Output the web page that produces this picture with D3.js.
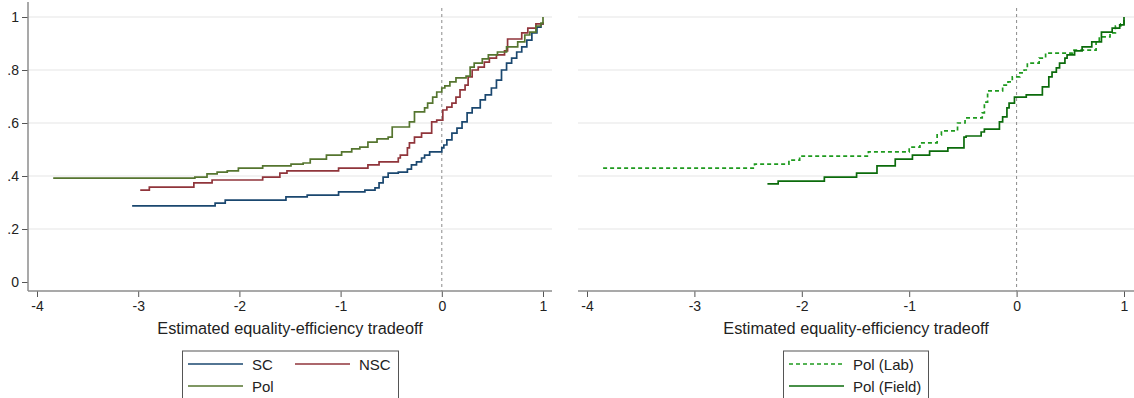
<!DOCTYPE html>
<html><head><meta charset="utf-8">
<script src="https://cdn.jsdelivr.net/npm/d3@7"></script>
<style>
html,body{margin:0;padding:0;background:#fff;}
svg{display:block;font-family:"Liberation Sans",Arial,sans-serif;}
</style></head>
<body><svg id="c" width="1134" height="398"></svg>
<script>
// ---- data ----
const xTicks = [-4,-3,-2,-1,0,1];
const yTicks = [0,0.2,0.4,0.6,0.8,1];
const axisTitle = "Estimated equality-efficiency tradeoff";

const scX = [-3.06,-2.24,-2.14,-1.54,-1.33,-1.02,-0.76,-0.66,-0.62,-0.58,-0.53,-0.43,-0.34,-0.30,-0.25,-0.20,-0.17,-0.12,0.00,0.02,0.05,0.10,0.15,0.20,0.25,0.30,0.38,0.43,0.49,0.54,0.59,0.64,0.69,0.74,0.79,0.84,0.89,0.94,0.98,1.00];
const scY = [0.287,0.298,0.309,0.321,0.328,0.340,0.347,0.355,0.374,0.396,0.411,0.415,0.426,0.442,0.453,0.468,0.479,0.491,0.506,0.517,0.536,0.562,0.581,0.604,0.638,0.657,0.687,0.706,0.732,0.762,0.800,0.826,0.845,0.868,0.887,0.913,0.940,0.962,0.974,0.978];

const nscX = [-2.98,-2.89,-2.45,-2.27,-1.77,-1.60,-1.53,-1.02,-0.73,-0.62,-0.43,-0.41,-0.34,-0.32,-0.27,-0.20,-0.10,-0.05,0.01,0.05,0.10,0.14,0.18,0.23,0.26,0.30,0.36,0.42,0.47,0.54,0.62,0.65,0.79,0.85,0.93,1.00];
const nscY = [0.347,0.358,0.374,0.385,0.396,0.411,0.419,0.430,0.442,0.453,0.468,0.479,0.506,0.525,0.547,0.562,0.604,0.611,0.649,0.660,0.675,0.698,0.725,0.743,0.774,0.800,0.811,0.830,0.845,0.857,0.872,0.917,0.940,0.958,0.974,0.980];

const polX = [-3.84,-2.44,-2.32,-2.22,-2.12,-2.01,-1.77,-1.49,-1.37,-1.30,-1.14,-0.99,-0.89,-0.81,-0.73,-0.64,-0.53,-0.49,-0.32,-0.27,-0.17,-0.14,-0.09,-0.05,0.00,0.03,0.08,0.14,0.24,0.28,0.32,0.40,0.46,0.55,0.64,0.75,0.82,0.87,0.93,0.98,1.00];
const polY = [0.392,0.396,0.408,0.415,0.419,0.430,0.438,0.445,0.449,0.464,0.479,0.491,0.502,0.509,0.528,0.540,0.547,0.585,0.604,0.642,0.657,0.675,0.698,0.717,0.732,0.740,0.755,0.770,0.777,0.811,0.826,0.842,0.857,0.868,0.887,0.906,0.932,0.943,0.966,0.977,1.000];

const labX = [-3.85,-2.44,-2.12,-2.02,-1.38,-1.00,-0.90,-0.74,-0.70,-0.55,-0.48,-0.32,-0.30,-0.27,-0.13,-0.08,-0.04,0.03,0.07,0.10,0.21,0.27,0.52,0.74,0.77,0.87,0.92,0.97,1.00];
const labY = [0.430,0.445,0.460,0.475,0.491,0.509,0.525,0.555,0.570,0.600,0.619,0.638,0.679,0.721,0.743,0.755,0.774,0.789,0.800,0.826,0.845,0.864,0.875,0.906,0.925,0.940,0.966,0.974,1.000];

const fieldX = [-2.32,-2.22,-1.79,-1.49,-1.30,-1.13,-0.97,-0.81,-0.64,-0.49,-0.47,-0.33,-0.30,-0.16,-0.13,-0.09,-0.07,-0.02,0.09,0.24,0.30,0.33,0.37,0.40,0.45,0.47,0.54,0.61,0.70,0.79,0.89,0.96,1.00];
const fieldY = [0.370,0.381,0.396,0.411,0.438,0.464,0.479,0.494,0.506,0.547,0.551,0.566,0.577,0.604,0.623,0.657,0.675,0.698,0.706,0.736,0.774,0.792,0.808,0.826,0.845,0.857,0.872,0.887,0.906,0.943,0.958,0.970,1.000];

const leftSeries = [
  {name:"SC", xs:scX, ys:scY, color:"#1a476f", dash:null},
  {name:"NSC", xs:nscX, ys:nscY, color:"#90353b", dash:null},
  {name:"Pol", xs:polX, ys:polY, color:"#55752f", dash:null}
];
const rightSeries = [
  {name:"Pol (Lab)", xs:labX, ys:labY, color:"#1e9a1e", dash:"4,3"},
  {name:"Pol (Field)", xs:fieldX, ys:fieldY, color:"#0b6b0b", dash:null}
];

// ---- drawing ----
const svg = d3.select("#c");
const y = d3.scaleLinear().domain([0,1]).range([282,17]);
const fmtX = d => String(d);
const fmtY = d => d===0 ? "0" : d===1 ? "1" : String(d).replace("0.",".");

function panel(opts){
  const g = svg.append("g");
  const x = d3.scaleLinear().domain([-4,1]).range(opts.xr);
  // grid
  g.append("g").selectAll("line").data(yTicks.filter(d=>d>0)).join("line")
    .attr("x1",opts.left).attr("x2",opts.right)
    .attr("y1",d=>y(d)).attr("y2",d=>y(d))
    .attr("stroke","#e6e6e6").attr("stroke-width",1.2);
  // zero reference
  g.append("line").attr("x1",x(0)).attr("x2",x(0)).attr("y1",8).attr("y2",291)
    .attr("stroke","#8a8a8a").attr("stroke-width",1).attr("stroke-dasharray","3,3");
  // x axis
  const ax = g.append("g").attr("transform","translate(0,291)")
    .call(d3.axisBottom(x).tickValues(xTicks).tickFormat(fmtX).tickSize(6).tickPadding(4));
  ax.select(".domain").remove();
  ax.selectAll(".tick line").attr("stroke","#555");
  ax.selectAll(".tick text").attr("font-size","14px").attr("fill","#222")
    .attr("font-family","'Liberation Sans',Arial,sans-serif");
  g.append("line").attr("x1",opts.left).attr("x2",opts.right).attr("y1",291).attr("y2",291)
    .attr("stroke","#8c8c8c").attr("stroke-width",1.5);
  if(opts.yaxis){
    const ay = g.append("g").attr("transform",`translate(${opts.left},0)`)
      .call(d3.axisLeft(y).tickValues(yTicks).tickFormat(fmtY).tickSize(6).tickPadding(3));
    ay.select(".domain").remove();
    ay.selectAll(".tick line").attr("stroke","#555");
    ay.selectAll(".tick text").attr("font-size","14px").attr("fill","#222")
      .attr("font-family","'Liberation Sans',Arial,sans-serif");
    g.append("line").attr("x1",opts.left).attr("x2",opts.left).attr("y1",2).attr("y2",291)
      .attr("stroke","#8c8c8c").attr("stroke-width",1.5);
  }
  // axis title
  g.append("text").attr("x",(opts.left+opts.right)/2).attr("y",334)
    .attr("text-anchor","middle").attr("font-size","16.3px").attr("fill","#222").text(axisTitle);
  // series
  const line = d3.line().x(d=>x(d[0])).y(d=>y(d[1])).curve(d3.curveStepAfter);
  opts.series.forEach(s=>{
    const pts = s.xs.map((v,i)=>[v,s.ys[i]]);
    g.append("path").attr("d",line(pts)).attr("fill","none")
      .attr("stroke",s.color).attr("stroke-width",1.7)
      .attr("stroke-dasharray",s.dash);
  });
  // legend
  const L = opts.legend;
  g.append("rect").attr("x",L.x).attr("y",351).attr("width",L.w).attr("height",60)
    .attr("fill","#fff").attr("stroke","#555").attr("stroke-width",1);
  opts.series.forEach((s,i)=>{
    const p = L.pos[i];
    g.append("line").attr("x1",p[0]).attr("x2",p[0]+55).attr("y1",p[1]).attr("y2",p[1])
      .attr("stroke",s.color).attr("stroke-width",1.7).attr("stroke-dasharray",s.dash);
    g.append("text").attr("x",p[0]+64).attr("y",p[1]+5.5).attr("font-size","15px")
      .attr("fill","#222").text(s.name);
  });
}

panel({xr:[37,543], left:28, right:552, yaxis:true, series:leftSeries,
  legend:{x:182.5, w:216, pos:[[188,364],[295,364],[188,386]]}});
panel({xr:[587,1124], left:578, right:1134, yaxis:false, series:rightSeries,
  legend:{x:783.5, w:145, pos:[[789,364],[789,386]]}});
</script></body></html>
